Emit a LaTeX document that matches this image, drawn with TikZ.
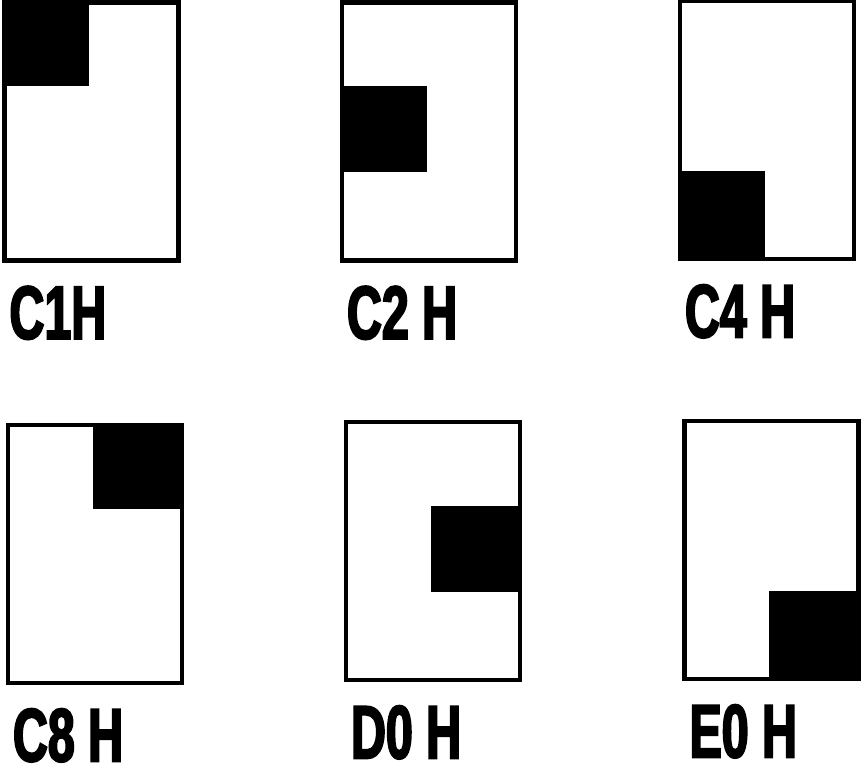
\documentclass[tikz,border=0pt]{standalone}
\usepackage{fontspec}
\newfontfamily\labfont{Liberation Sans}[FakeStretch=0.64,FakeBold=2.5]
\usetikzlibrary{calc}

\begin{document}
\begin{tikzpicture}[
  x=0.02cm, y=-0.02cm,
  card/.style={draw=black, line width=2.7pt, fill=white,
               minimum width=3.48cm, minimum height=5.16cm, inner sep=0pt},
  cardlabel/.style={anchor=base west, inner sep=0pt, text depth=0pt,
                    font=\labfont\bfseries\fontsize{43}{43}\selectfont},
]

\fill[white] (0,0) rectangle (863,765);
\useasboundingbox (0,0) rectangle (863,765);

% =====================================================================
% card size (one cell = half the width, a third of the height)
% =====================================================================
\pgfmathsetmacro{\cw}{174}
\pgfmathsetmacro{\ch}{258}

% =====================================================================
% six cards: name / centre / cell column / cell row / label
% =====================================================================
\foreach \name/\cx/\cy/\col/\row/\lab in {
    cOne/91.5/131.5/0/0/C1H,  cTwo/429/131.5/0/1/C2 H,  cFour/767/130/0/2/C4 H,
    cEight/95/554/1/0/C8 H,   dZero/433/551/1/1/D0 H,   eZero/771.5/550/1/2/E0 H}{
  \node[card] (\name) at (\cx,\cy) {};
  \fill[black] ($(\name.north west)+(\col*\cw/2,\row*\ch/3)$) rectangle ++(\cw/2,\ch/3);
  \node[cardlabel] (\name-lab) at ($(\name.south west)+(7,76)$) {\lab};
}

\end{tikzpicture}
\end{document}
